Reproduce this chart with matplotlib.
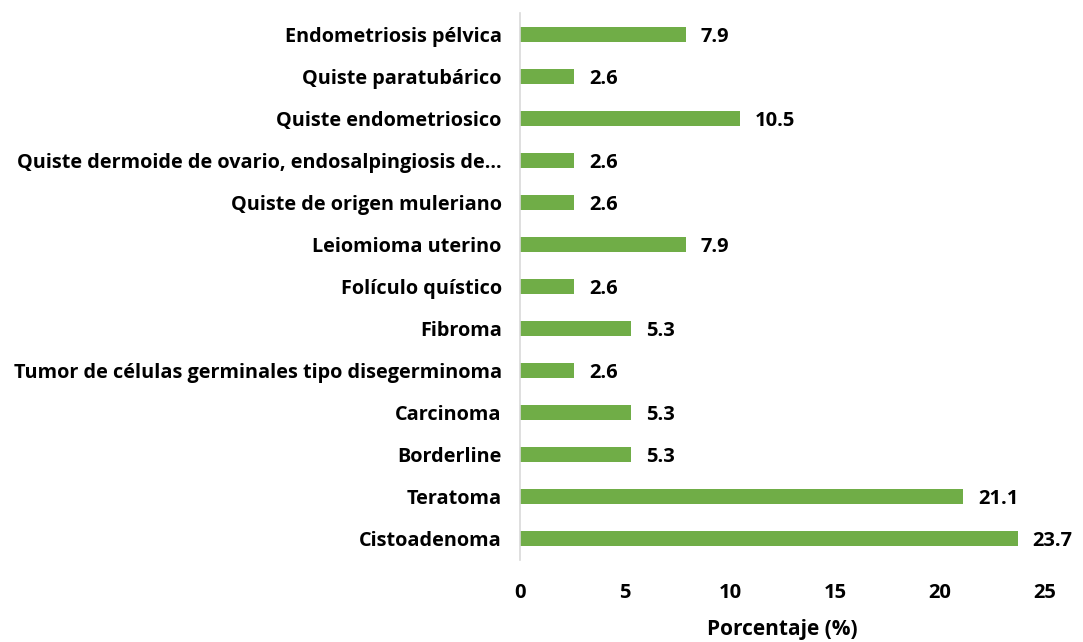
import matplotlib
matplotlib.use('Agg')
import matplotlib.pyplot as plt

categories = ['Cistoadenoma', 'Teratoma', 'Borderline', 'Carcinoma',
              'Tumor de células germinales tipo disegerminoma', 'Fibroma',
              'Folículo quístico', 'Leiomioma uterino', 'Quiste de origen muleriano',
              'Quiste dermoide de ovario, endosalpingiosis de…',
              'Quiste endometriosico', 'Quiste paratubárico', 'Endometriosis pélvica']
values = [23.7, 21.1, 5.3, 5.3, 2.6, 5.3, 2.6, 7.9, 2.6, 2.6, 10.5, 2.6, 7.9]
xticks = [0, 5, 10, 15, 20, 25]

plt.rcParams['font.family'] = ['Open Sans', 'DejaVu Sans']
plt.rcParams['font.weight'] = 'bold'

fig = plt.figure(figsize=(10.83, 6.42), dpi=100)
ax = fig.add_axes([0.480, 0.128, 0.485, 0.851])

pos = range(len(categories))
bars = ax.barh(pos, values, height=0.36, color='#70AD47')
for b, v in zip(bars, values):
    ax.text(v + 0.7, b.get_y() + b.get_height() / 2 - 0.05, f'{v:.1f}',
            va='center', ha='left', fontsize=14.5, fontweight='bold')

ax.set_ylim(-0.5, len(categories) - 0.5)
ax.set_xlim(0, 25)
ax.set_yticks(list(pos))
ax.set_yticklabels(categories, fontsize=14.3, fontweight='bold')
ax.set_xticks(xticks)
ax.set_xticklabels([str(t) for t in xticks], fontsize=14.5, fontweight='bold')
ax.tick_params(axis='both', length=0)
ax.tick_params(axis='y', pad=13)
ax.tick_params(axis='x', pad=17)
ax.set_xlabel('Porcentaje (%)', fontsize=15, fontweight='bold', labelpad=11)

for s in ['top', 'right', 'bottom']:
    ax.spines[s].set_visible(False)
ax.spines['left'].set_color('#D9D9D9')
ax.spines['left'].set_linewidth(1.2)

fig.savefig('out.png', dpi=100)
